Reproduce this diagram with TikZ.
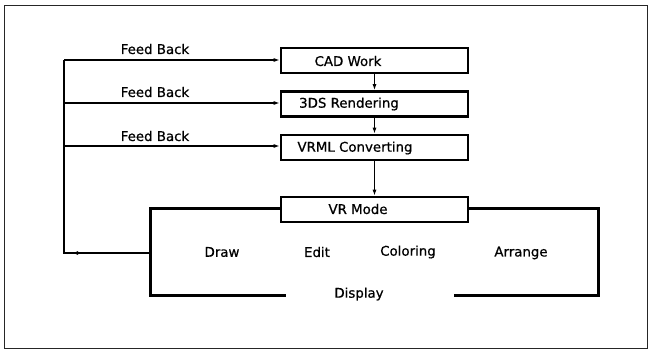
\documentclass[tikz,border=0pt]{standalone}
\usepackage{fontspec}
\setmainfont{DejaVu Sans}
\newfontfamily\lblfont{DejaVu Sans}[FakeBold=0.7]
\usetikzlibrary{arrows.meta}
\begin{document}
\begin{tikzpicture}[x=1bp,y=-1bp,
  lbl/.style={font=\lblfont\fontsize{13.4}{15}\selectfont, inner sep=0pt, anchor=center},
  stagebox/.style={draw, line width=2.6bp, minimum width=187bp, minimum height=25bp, inner sep=0pt},
  thinline/.style={line width=1.4bp},
  tip/.style={-{Latex[length=6bp,width=4bp]}},
  heavy/.style={line width=3bp}]
\useasboundingbox (0,0) rectangle (649,350);
\draw[line width=1bp, black!85] (4.5,5.5) rectangle (647.5,348.5);
% stage boxes
\node[stagebox] (cad)  at (374.5,60.5)  {};
\node[stagebox] (tds)  at (374.5,104)   {};
\node[stagebox] (vrml) at (374.5,147.5) {};
\node[stagebox] (vr)   at (374.5,209.5) {};
\node[lbl] (tcad)  at (348,61)  {CAD Work};
\node[lbl] (ttds)  at (349,104) {3DS Rendering};
\node[lbl] (tvrml) at (355,148) {VRML Converting};
\node[lbl] (tvr)   at (358,209) {VR Mode};
% arrows between boxes
\draw[thinline, tip] (cad.south) -- (tds.north);
\draw[thinline, tip] (tds.south) -- (vrml.north);
\draw[thinline, tip] (vrml.south) -- (vr.north);
% display frame
\coordinate (fl) at (150,208);
\coordinate (fr) at (598,208);
\coordinate (bl) at (150,295);
\coordinate (br) at (598,295);
\coordinate (bgl) at (286,295);
\coordinate (bgr) at (454,295);
\draw[heavy] (vr.west |- fl) -- (fl) -- (bl) -- (bgl);
\draw[heavy] (vr.east |- fr) -- (fr) -- (br) -- (bgr);
\node[lbl] (draw) at (222,252) {Draw};
\node[lbl] (edit) at (317,252) {Edit};
\node[lbl] (col)  at (408,252) {Coloring};
\node[lbl] (arr)  at (521,253) {Arrange};
\node[lbl] (disp) at (359,294) {Display};
% feedback loop
\coordinate (fbout) at (150,253);
\coordinate (fbtip) at (72,253);
\coordinate (fbc)   at (64,253);
\coordinate (fbtop) at (64,60);
\draw[thinline] (fbout) -- (fbc) -- (fbtop);
\draw[thinline, tip] (fbout) -- (fbtip);
\draw[thinline, tip] (fbtop) -- (cad.west |- fbtop);
\draw[thinline, tip] (64,103) coordinate (f2) -- (tds.west |- f2);
\draw[thinline, tip] (64,146) coordinate (f3) -- (vrml.west |- f3);
\node[lbl] (fb1) at (155,49)  {Feed Back};
\node[lbl] (fb2) at (155,92)  {Feed Back};
\node[lbl] (fb3) at (155,136) {Feed Back};
\end{tikzpicture}
\end{document}
